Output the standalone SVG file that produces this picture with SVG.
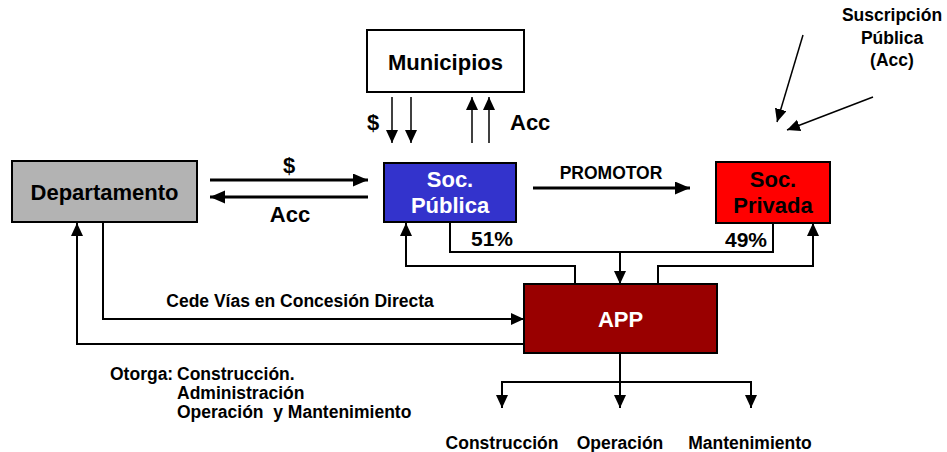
<svg xmlns="http://www.w3.org/2000/svg" width="947" height="452" viewBox="0 0 947 452">
<style>
text{font-family:"Liberation Sans",Arial,sans-serif;font-weight:bold;fill:#000}
.box{stroke:#000;stroke-width:2}
.big{font-size:22px}
.mid{font-size:21px}
.sm{font-size:17.5px}
.w{fill:#fff}
.c{text-anchor:middle}
.ln{fill:none;stroke:#000;stroke-width:2}
.th{fill:none;stroke:#000;stroke-width:3}
.tn{fill:none;stroke:#000;stroke-width:1.5}
</style>
<defs>
<marker id="ah" markerUnits="userSpaceOnUse" markerWidth="16" markerHeight="14" refX="15" refY="6.5" orient="auto" viewBox="0 0 16 14"><path d="M0,0 L15,6.5 L0,13 z" fill="#000"/></marker>
<marker id="am" markerUnits="userSpaceOnUse" markerWidth="14" markerHeight="14" refX="13" refY="6" orient="auto" viewBox="0 0 14 14"><path d="M0,0 L13,6 L0,12 z" fill="#000"/></marker>
</defs>
<g id="connectors">
<line class="th" x1="210" y1="180" x2="368" y2="180" marker-end="url(#ah)"/>
<line class="th" x1="368" y1="197" x2="210" y2="197" marker-end="url(#ah)"/>
<line class="tn" x1="392" y1="97" x2="392" y2="143" marker-end="url(#am)"/>
<line class="tn" x1="411" y1="97" x2="411" y2="143" marker-end="url(#am)"/>
<line class="tn" x1="472" y1="143" x2="472" y2="97" marker-end="url(#am)"/>
<line class="tn" x1="489" y1="143" x2="489" y2="97" marker-end="url(#am)"/>
<line class="th" x1="533" y1="188" x2="690" y2="188" marker-end="url(#ah)"/>
<polyline class="ln" points="450,223 450,252 773,252 773,223"/>
<line class="ln" x1="620" y1="252" x2="620" y2="284" marker-end="url(#am)"/>
<polyline class="ln" points="575,284 575,266 406,266 406,223" marker-end="url(#am)"/>
<polyline class="ln" points="658,284 658,266 813,266 813,223" marker-end="url(#am)"/>
<polyline class="ln" points="103,222 103,319 524,319" marker-end="url(#am)"/>
<polyline class="ln" points="524,344 77,344 77,223" marker-end="url(#am)"/>
<line class="ln" x1="620" y1="353" x2="620" y2="408" marker-end="url(#am)"/>
<polyline class="ln" points="620,382 502,382 502,408" marker-end="url(#am)"/>
<polyline class="ln" points="620,382 751,382 751,408" marker-end="url(#am)"/>
<line class="tn" x1="803" y1="35" x2="777" y2="122" marker-end="url(#am)"/>
<line class="tn" x1="873" y1="97" x2="787" y2="130" marker-end="url(#am)"/>
</g>
<g id="municipios">
<rect class="box" x="367" y="30" width="157" height="62" fill="#fff"/>
<text class="big c" x="445.5" y="70">Municipios</text>
</g>
<g id="departamento">
<rect class="box" x="12" y="161" width="185" height="61" fill="#b3b3b3"/>
<text class="big c" x="104.5" y="200">Departamento</text>
</g>
<g id="soc-publica">
<rect class="box" x="384" y="163" width="132" height="59" fill="#3333cc"/>
<text class="big c w" x="450" y="187">Soc.</text>
<text class="big c w" x="450" y="213">Pública</text>
</g>
<g id="soc-privada">
<rect class="box" x="716" y="162" width="114" height="61" fill="#ff0000"/>
<text class="big c" x="773" y="187">Soc.</text>
<text class="big c" x="773" y="213">Privada</text>
</g>
<g id="app">
<rect class="box" x="524" y="284" width="193" height="69" fill="#990000"/>
<text class="big c w" x="620.5" y="327">APP</text>
</g>
<g id="labels">
<text class="big c" x="289" y="173">$</text>
<text class="big c" x="290" y="222">Acc</text>
<text class="big c" x="373" y="130">$</text>
<text class="big" x="510" y="130">Acc</text>
<text class="sm c" x="611" y="179">PROMOTOR</text>
<text class="mid c" x="492" y="246">51%</text>
<text class="mid c" x="746" y="247">49%</text>
<text class="sm c" x="300" y="307">Cede Vías en Concesión Directa</text>
<text class="sm" x="110" y="380">Otorga:</text>
<text class="sm" x="177" y="380">Construcción.</text>
<text class="sm" x="177" y="399">Administración</text>
<text class="sm" x="177" y="418" xml:space="preserve">Operación  y Mantenimiento</text>
<text class="sm c" x="502" y="449">Construcción</text>
<text class="sm c" x="620" y="449">Operación</text>
<text class="sm c" x="750" y="449">Mantenimiento</text>
<text class="sm c" x="892" y="21">Suscripción</text>
<text class="sm c" x="892" y="44">Pública</text>
<text class="sm c" x="892" y="66">(Acc)</text>
</g>
</svg>
